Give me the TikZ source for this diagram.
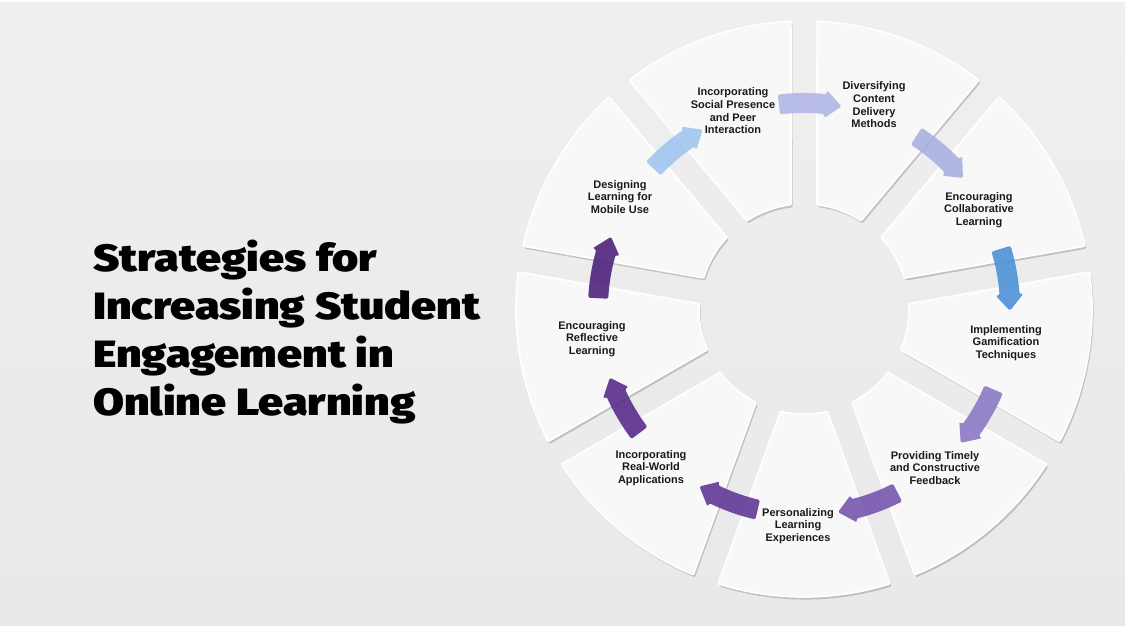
\documentclass[tikz,border=0pt]{standalone}
\usepackage{fontspec}
\setmainfont{Liberation Sans}
\IfFontExistsTF{Fira Sans Black}{\newfontfamily\titlefont{Fira Sans Black}[FakeStretch=1.18]}{%
  \IfFontExistsTF{Fira Sans ExtraBold}{\newfontfamily\titlefont{Fira Sans ExtraBold}[FakeStretch=1.18]}{%
    \newfontfamily\titlefont{Liberation Sans Bold}[FakeBold=1.5]}}
\usetikzlibrary{shadows}

\definecolor{bgtop}{HTML}{EFEFEF}
\definecolor{bgbot}{HTML}{E9E9E9}
\definecolor{segfill}{HTML}{F8F8F8}
\definecolor{labeltext}{HTML}{1A1A1A}
\definecolor{arrMobile}{HTML}{9EC5EE}
\definecolor{arrSocial}{HTML}{B0B5E6}
\definecolor{arrContent}{HTML}{A8AEE0}
\definecolor{arrCollab}{HTML}{4A8FD6}
\definecolor{arrGame}{HTML}{8A76C4}
\definecolor{arrFeedback}{HTML}{7452AD}
\definecolor{arrPersonal}{HTML}{5E3596}
\definecolor{arrRealWorld}{HTML}{55288A}
\definecolor{arrReflect}{HTML}{4A1F78}

\tikzset{
  segment/.style={fill=segfill, draw=white, line width=1.6pt, rounded corners=1pt,
    drop shadow={shadow xshift=1.5pt, shadow yshift=-2.5pt, opacity=.18, fill=black}},
  steplabel/.style={align=center, inner sep=0pt, text=labeltext,
    font=\bfseries\fontsize{11}{12.7}\selectfont},
  cyclearrow/.style={fill=#1, fill opacity=.88, rounded corners=1.5pt}
}

\begin{document}
\begin{tikzpicture}[x=1pt, y=1pt]
  \useasboundingbox (0,0) rectangle (1125,629);
  \fill[white] (0,0) rectangle (1125,629);
  \shade[top color=bgtop, bottom color=bgbot] (0,3) rectangle (1125,626);

  % wheel
  \begin{scope}[shift={(804,320)}]
    \foreach \lo in {10,50,...,330}
      \draw[segment] ({\lo+2.6}:288) arc[start angle=\lo+2.6, end angle=\lo+37.4, radius=288]
        -- ({\lo+32.9}:105) arc[start angle=\lo+32.9, end angle=\lo+7.1, radius=105] -- cycle;

    % arrows across the gaps
    \foreach \b/\c in {170/arrReflect, 130/arrMobile, 90/arrSocial, 50/arrContent,
                       10/arrCollab, 330/arrGame, 290/arrFeedback, 250/arrPersonal, 210/arrRealWorld}
      \fill[cyclearrow=\c] ({\b+7}:216) arc[start angle=\b+7, end angle=\b-6, radius=216]
        -- ({\b-6}:220) -- ({\b-10.5}:206) -- ({\b-6}:192) -- ({\b-6}:196)
        arc[start angle=\b-6, end angle=\b+7, radius=196] -- cycle;
  \end{scope}

  \node[steplabel] (social) at (733,518) {Incorporating\\Social Presence\\and Peer\\Interaction};
  \node[steplabel] (content) at (874,524) {Diversifying\\Content\\Delivery\\Methods};
  \node[steplabel] (collab) at (979,419) {Encouraging\\Collaborative\\Learning};
  \node[steplabel] (game) at (1006,286) {Implementing\\Gamification\\Techniques};
  \node[steplabel] (feedback) at (935,161) {Providing Timely\\and Constructive\\Feedback};
  \node[steplabel] (personal) at (798,103) {Personalizing\\Learning\\Experiences};
  \node[steplabel] (realworld) at (651,161) {Incorporating\\Real-World\\Applications};
  \node[steplabel] (reflect) at (592,290) {Encouraging\\Reflective\\Learning};
  \node[steplabel] (mobile) at (620,432) {Designing\\Learning for\\Mobile Use};

  \node[anchor=base west, align=left, inner sep=0pt, text=black,
    font=\titlefont\fontsize{38}{48}\selectfont] (title) at (93,213)
    {Strategies for\\Increasing Student\\Engagement in\\Online Learning};
\end{tikzpicture}
\end{document}
